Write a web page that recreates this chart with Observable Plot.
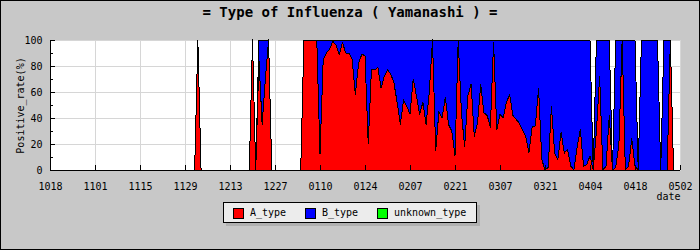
<!DOCTYPE html>
<html><head><meta charset="utf-8">
<script src="https://cdn.jsdelivr.net/npm/d3@7"></script>
<script src="https://cdn.jsdelivr.net/npm/@observablehq/plot@0.6"></script>
<style>
html,body{margin:0;padding:0;background:#c8c8c8;}
#chart{position:relative;width:700px;height:250px;background:#c8c8c8;overflow:hidden;font-family:"DejaVu Sans Mono",monospace;color:#000;}
#border{position:absolute;left:0;top:0;width:700px;height:250px;box-sizing:border-box;border:1px solid #000;pointer-events:none;}
#title{position:absolute;left:0;top:3px;width:700px;text-align:center;font-size:14px;font-weight:bold;line-height:18px;white-space:pre;}
#legend{position:absolute;left:223px;top:202px;width:254px;height:21px;box-sizing:border-box;border:1px solid #000;background:#ececec;box-shadow:3px 3px 0 #b0b0b0;}
.sw{position:absolute;top:5px;width:11px;height:11px;box-sizing:border-box;border:1px solid #000;}
.lt{position:absolute;top:3px;font-size:10px;line-height:13px;white-space:pre;}
#chart svg{position:absolute;left:0;top:0;}
</style>
</head>
<body>
<div id="chart">
  <div id="title">= Type of Influenza ( Yamanashi ) =</div>
  <div id="legend"></div>
  <div id="border"></div>
</div>
<script>
// ---- data ----
const title = "= Type of Influenza ( Yamanashi ) =";
const tickLabels = ["1018","1101","1115","1129","1213","1227","0110","0124","0207","0221","0307","0321","0404","0418","0502"];
const types = ["A_type", "B_type", "unknown_type"];
const typeColors = ["#ff0000", "#0000ff", "#00ff00"];
const yTicks = [0, 20, 40, 60, 80, 100];
const yMinorTicks = [10, 30, 50, 70, 90];
const yLabel = "Positive_rate(%)";
const xLabel = "date";
// daily values from 10/18 (one entry per day, 14 per line)
const A_type = [
  0,0,0,0,0,0,0,0,0,0,0,0,0,0,
  0,0,0,0,0,0,0,0,0,0,0,0,0,0,
  0,0,0,0,0,0,0,0,0,0,0,0,0,0,
  0,0,0,0,100,0,0,0,0,0,0,0,0,0,
  0,0,0,0,0,0,0,100,0,85,35,70,100,0,
  0,0,0,0,0,0,0,0,0,100,100,100,100,100,
  12,85,90,93,99,96,89,98,90,90,85,58,82,89,
  88,20,77,77,79,63,72,77,74,67,52,35,54,49,
  43,70,57,43,52,35,60,100,15,45,40,56,35,30,
  11,100,44,18,57,66,26,36,66,44,42,33,98,31,
  43,40,52,58,42,39,36,31,26,13,33,34,63,8,
  0,2,49,13,8,29,13,16,3,0,18,31,3,4,
  11,0,30,72,0,3,42,0,2,20,100,0,3,24,
  3,0,0,0,0,0,0,0,0,0,0,100,0,0,
  0
];
const B_type = [
  0,0,0,0,0,0,0,0,0,0,0,0,0,0,
  0,0,0,0,0,0,0,0,0,0,0,0,0,0,
  0,0,0,0,0,0,0,0,0,0,0,0,0,0,
  0,0,0,0,0,0,0,0,0,0,0,0,0,0,
  0,0,0,0,0,0,0,0,0,15,65,30,0,0,
  0,0,0,0,0,0,0,0,0,0,0,0,0,0,
  88,15,10,7,1,4,11,2,10,10,15,42,18,11,
  12,80,23,23,21,37,28,23,26,33,48,65,46,51,
  57,30,43,57,48,65,40,0,85,55,60,44,65,70,
  89,0,56,82,43,34,74,64,34,56,58,67,2,69,
  57,60,48,42,58,61,64,69,74,87,67,66,37,92,
  100,98,51,87,92,71,87,84,97,100,82,69,97,96,
  89,0,70,28,100,97,58,0,98,80,0,100,97,76,
  97,0,100,100,100,100,100,100,0,100,100,0,0,0,
  0
];

// ---- build ----
const toDate = s => {
  const m = +s.slice(0, 2), d = +s.slice(2);
  return new Date(Date.UTC(m >= 10 ? 2018 : 2019, m - 1, d));
};
const xTicks = tickLabels.map(toDate);
const t0 = xTicks[0];
const dayDate = i => new Date(t0.getTime() + i * 864e5);
const rows = [];
A_type.forEach((v, i) => rows.push({date: dayDate(i), type: types[0], value: v}));
B_type.forEach((v, i) => rows.push({date: dayDate(i), type: types[1], value: v}));

const xEnd = xTicks[xTicks.length - 1];
const plot = Plot.plot({
  width: 700, height: 250,
  marginLeft: 50, marginRight: 20, marginTop: 40, marginBottom: 80,
  style: {background: "transparent", fontFamily: "'DejaVu Sans Mono', monospace", fontSize: "10px", color: "#000"},
  x: {type: "utc", domain: [t0, xEnd]},
  y: {domain: [0, 100]},
  color: {domain: types, range: typeColors},
  marks: [
    Plot.frame({fill: "white", stroke: null}),
    Plot.ruleX(xTicks, {stroke: "#d6d6d6", shapeRendering: "crispEdges"}),
    Plot.ruleY(yTicks, {stroke: "#d6d6d6", shapeRendering: "crispEdges"}),
    Plot.areaY(rows, {x: "date", y: "value", z: "type", fill: "type", stroke: "black", strokeWidth: 1, shapeRendering: "crispEdges"}),
    Plot.ruleX(xTicks, {y1: 100, y2: 0, insetTop: 125, stroke: "black", shapeRendering: "crispEdges"}),
    Plot.ruleY(yTicks, {x1: t0, x2: xEnd, insetRight: 625, stroke: "black", shapeRendering: "crispEdges"}),
    Plot.ruleY(yMinorTicks, {x1: t0, x2: xEnd, insetRight: 627, stroke: "black", shapeRendering: "crispEdges"}),
    Plot.ruleX([t0], {stroke: "black", shapeRendering: "crispEdges"}),
    Plot.ruleY([0], {stroke: "black", shapeRendering: "crispEdges"}),
    Plot.axisX({ticks: xTicks, tickFormat: d3.utcFormat("%m%d"), tickSize: 0, tickPadding: 12, label: null}),
    Plot.axisY({ticks: yTicks, tickSize: 0, tickPadding: 8, label: null}),
    Plot.text([xLabel], {text: d => d, frameAnchor: "bottom-right", dy: 26, textAnchor: "end", lineAnchor: "middle"}),
    Plot.text([yLabel], {text: d => d, frameAnchor: "left", dx: -30, rotate: -90, textAnchor: "middle", lineAnchor: "middle"})
  ]
});
const chart = document.getElementById("chart");
chart.insertBefore(plot, chart.firstChild);

// legend
const legend = document.getElementById("legend");
const swX = [9, 81, 153], txX = [26, 98, 170];
types.forEach((t, i) => {
  const sw = document.createElement("div");
  sw.className = "sw"; sw.style.left = swX[i] + "px"; sw.style.background = typeColors[i];
  legend.appendChild(sw);
  const tx = document.createElement("div");
  tx.className = "lt"; tx.style.left = txX[i] + "px"; tx.textContent = t;
  legend.appendChild(tx);
});
document.getElementById("title").textContent = title;
</script>
</body></html>
